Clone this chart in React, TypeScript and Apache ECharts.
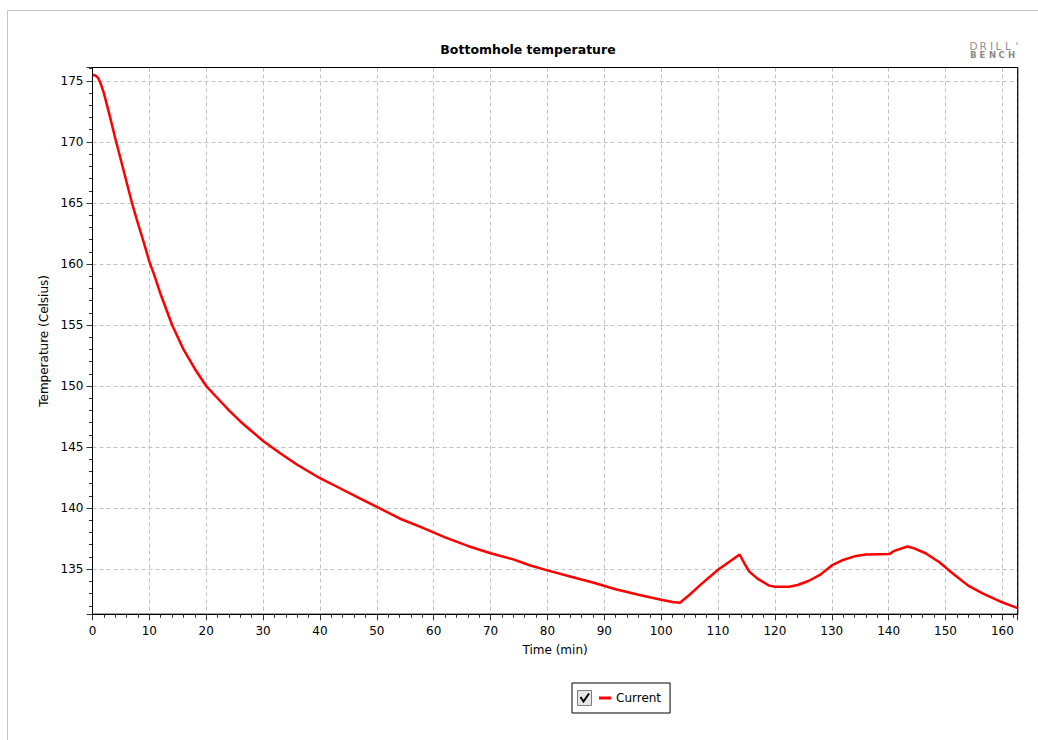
import React, { useEffect, useRef } from "react";
import * as echarts from "echarts";

// Elapsed time (min) and bottomhole temperature (°C)
const timeMin: number[] = [
  0, 0.5, 1, 1.5, 2, 3, 4, 5, 6, 7, 8, 9, 10, 11, 12, 14, 16, 18, 20, 22, 24, 26, 28, 30,
  33, 36, 40, 43, 47, 50, 54, 58, 62, 66, 70, 74, 77, 80, 84, 88, 92, 96, 100, 102, 103.3,
  105, 107, 110, 112, 113.8, 114.6, 115.5, 117, 119, 120, 122.5, 124, 126, 128, 130, 132,
  134, 136, 140.2, 141, 143.3, 144.5, 146.5, 149, 151, 154, 156.6, 159.6, 162.7,
];
const tempCelsius: number[] = [
  175.5, 175.45, 175.25, 174.7, 174.0, 172.2, 170.3, 168.5, 166.7, 164.9, 163.3, 161.8,
  160.2, 158.9, 157.5, 155.0, 153.0, 151.4, 150.0, 149.0, 148.0, 147.1, 146.3, 145.5,
  144.5, 143.55, 142.45, 141.75, 140.8, 140.1, 139.15, 138.4, 137.6, 136.9, 136.3, 135.8,
  135.3, 134.9, 134.4, 133.9, 133.35, 132.9, 132.5, 132.3, 132.25, 132.9, 133.75, 134.95,
  135.6, 136.2, 135.5, 134.8, 134.2, 133.65, 133.55, 133.55, 133.7, 134.05, 134.55, 135.3,
  135.75, 136.05, 136.2, 136.25, 136.5, 136.85, 136.7, 136.3, 135.55, 134.75, 133.65,
  133.0, 132.35, 131.8,
];

const seriesName = "Current";
const chartTitle = "Bottomhole temperature";
const xAxisName = "Time (min)";
const yAxisName = "Temperature (Celsius)";
const logoTop = ["D", "R", "I", "L", "L", "'"];
const logoBottom = ["B", "E", "N", "C", "H"];

const FONT = "DejaVu Sans";

// plot rectangle in page pixels
const GRID_LEFT = 92.5;
const GRID_TOP = 67.5;
const GRID_RIGHT = 20.3;
const GRID_BOTTOM = 125.7;
const W = 1038;
const H = 740;

export default function App() {
  const ref = useRef<HTMLDivElement>(null);

  useEffect(() => {
    if (!ref.current) return;
    const chart = echarts.init(ref.current, undefined, { renderer: "svg" });

    const data = timeMin.map((t, i) => [t, tempCelsius[i]]);

    const topX = [969.5, 979.5, 990, 995.5, 1005, 1015.5];
    const bottomX = [970, 979.5, 989, 998.5, 1008];

    const graphic: any[] = [
      // outer panel frame
      {
        type: "rect",
        shape: { x: 7.5, y: 10.5, width: 1100, height: 800 },
        style: { fill: "none", stroke: "#c4c4c4", lineWidth: 1 },
        silent: true,
        z: -1,
      },
      // solid frame round the plot area
      {
        type: "rect",
        shape: {
          x: GRID_LEFT,
          y: GRID_TOP,
          width: W - GRID_LEFT - GRID_RIGHT,
          height: H - GRID_TOP - GRID_BOTTOM,
        },
        style: { fill: "none", stroke: "#000", lineWidth: 1 },
        silent: true,
        z: 50,
      },
      // legend checkbox
      {
        type: "rect",
        shape: { x: 577.5, y: 690.5, width: 14, height: 15 },
        style: { fill: "#e6e6e6", stroke: "#808080", lineWidth: 1 },
        silent: true,
        z: 50,
      },
      {
        type: "polyline",
        shape: { points: [[580.5, 697], [583.5, 701.5], [589, 693.5]] },
        style: { stroke: "#000", lineWidth: 2, fill: "none" },
        silent: true,
        z: 51,
      },
    ];
    logoTop.forEach((ch, i) => {
      graphic.push({
        type: "text",
        x: topX[i],
        y: 41,
        style: { text: ch, fill: "#8f8f8f", font: `10.5px ${FONT}`, lineHeight: 9 },
        silent: true,
      });
    });
    logoBottom.forEach((ch, i) => {
      graphic.push({
        type: "text",
        x: bottomX[i],
        y: 51,
        style: { text: ch, fill: "#8a8a8a", font: `bold 8.5px ${FONT}`, lineHeight: 8 },
        silent: true,
      });
    });

    chart.setOption({
      animation: false,
      backgroundColor: "#fff",
      title: {
        text: chartTitle,
        left: 528,
        top: 43,
        textAlign: "center",
        padding: 0,
        textStyle: { fontFamily: FONT, fontSize: 12.5, fontWeight: "bold", color: "#000" },
      },
      legend: {
        data: [seriesName],
        left: 572,
        top: 683,
        padding: [9, 9, 9, 27],
        borderColor: "#000",
        borderWidth: 1,
        icon: "rect",
        itemWidth: 12,
        itemHeight: 3,
        textStyle: { fontFamily: FONT, fontSize: 12, color: "#000" },
        selectedMode: false,
      },
      grid: {
        left: GRID_LEFT,
        top: GRID_TOP,
        right: GRID_RIGHT,
        bottom: GRID_BOTTOM,
        show: true,
        borderColor: "#000",
        borderWidth: 1,
        backgroundColor: "#fff",
      },
      xAxis: {
        type: "value",
        min: 0,
        max: 162.7,
        splitNumber: 16,
        name: xAxisName,
        nameLocation: "middle",
        nameGap: 30,
        nameTextStyle: { fontFamily: FONT, fontSize: 12, color: "#000" },
        axisLine: { show: true, lineStyle: { color: "#000", width: 1 } },
        axisTick: { show: true, length: 6, lineStyle: { color: "#333" } },
        minorTick: { show: true, splitNumber: 5, length: 3.5, lineStyle: { color: "#333" } },
        axisLabel: {
          margin: 11,
          fontFamily: FONT,
          fontSize: 12,
          color: "#000",
          showMaxLabel: false,
        },
        splitLine: { show: true, lineStyle: { color: "#c0c0c0", type: [4, 3], width: 1 } },
      },
      yAxis: {
        type: "value",
        min: 131.3,
        max: 176.1,
        splitNumber: 9,
        name: yAxisName,
        nameLocation: "middle",
        nameGap: 37,
        nameTextStyle: { fontFamily: FONT, fontSize: 12, color: "#000" },
        axisLine: { show: true, lineStyle: { color: "#000", width: 1 } },
        axisTick: { show: true, length: 6, lineStyle: { color: "#333" } },
        minorTick: { show: true, splitNumber: 5, length: 3.5, lineStyle: { color: "#333" } },
        axisLabel: {
          margin: 9,
          fontFamily: FONT,
          fontSize: 12,
          color: "#000",
          showMinLabel: false,
          showMaxLabel: false,
        },
        splitLine: { show: true, lineStyle: { color: "#c0c0c0", type: [4, 3], width: 1 } },
      },
      series: [
        {
          name: seriesName,
          type: "line",
          data,
          showSymbol: false,
          symbol: "none",
          lineStyle: { color: "#ff0000", width: 2.5 },
          itemStyle: { color: "#ff0000" },
        },
      ],
      graphic,
    });

    return () => chart.dispose();
  }, []);

  return (
    <div
      ref={ref}
      style={{ position: "absolute", left: 0, top: 0, width: W, height: H }}
    />
  );
}
